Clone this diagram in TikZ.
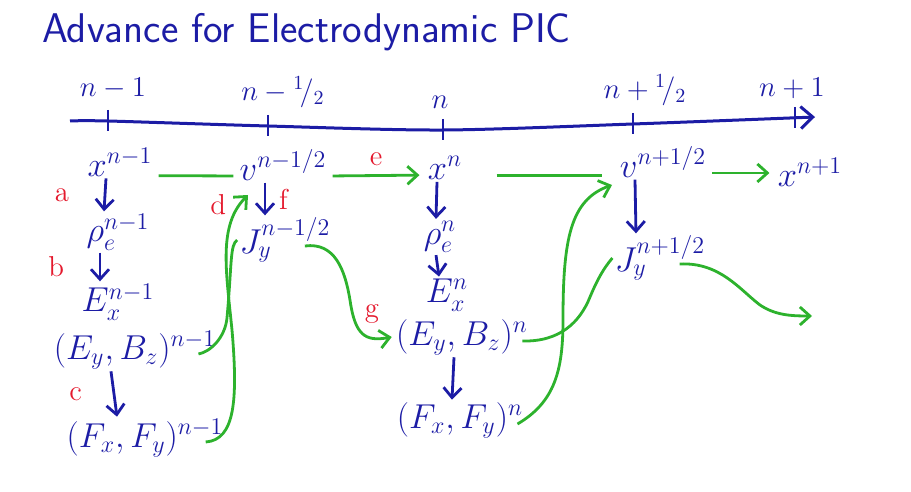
\documentclass[tikz,border=0pt]{standalone}
\usepackage{amsmath}
\usetikzlibrary{arrows.meta}

\definecolor{penblue}{RGB}{28,28,165}
\definecolor{pengreen}{RGB}{45,178,45}
\definecolor{penred}{RGB}{228,25,45}

\tikzset{
  qty/.style={text=penblue, font=\LARGE, inner sep=1pt},
  tlabel/.style={text=penblue, font=\Large},
  stepname/.style={text=penred, font=\Large},
  down/.style={penblue, line width=1.4pt, -{Straight Barb[length=5pt,width=9pt]}},
  gline/.style={pengreen, line width=1.4pt},
  garrow/.style={gline, -{Straight Barb[length=5pt,width=9pt]}},
}

\begin{document}
\begin{tikzpicture}[x=0.5pt,y=-0.5pt]
  \useasboundingbox (0,0) rectangle (911,492);
  \node[text=penblue, font=\huge\sffamily, anchor=west] (title) at (35,32) {Advance for Electrodynamic PIC};

  % time axis
  \draw[penblue, line width=1.5pt, -{Straight Barb[length=6pt,width=11pt]}]
    plot[smooth] coordinates {(70,121) (108,121) (268,126) (443,130) (633,124) (815,117)};
  \foreach \tx/\ty in {108/121, 268/126, 443/130, 633/124, 795/118}
    \draw[penblue, line width=1.3pt] (\tx,\ty-11) -- (\tx,\ty+10);
  \node[tlabel] (tA) at (113,88) {$n-1$};
  \node[tlabel] (tB) at (283,92) {$n-{}^{1}\!/_{2}$};
  \node[tlabel] (tC) at (440,102) {$n$};
  \node[tlabel] (tD) at (645,90) {$n+{}^{1}\!/_{2}$};
  \node[tlabel] (tE) at (792,88) {$n+1$};

  % step n-1
  \node[qty] (xA) at (120,162) {$x^{n-1}$};
  \node[qty] (rhoA) at (118,232) {$\rho_e^{n-1}$};
  \node[qty] (ExA) at (118,302) {$E_x^{n-1}$};
  \node[qty] (EBA) at (135,350) {$(E_y,B_z)^{n-1}$};
  \node[qty] (FA) at (145,438) {$(F_x,F_y)^{n-1}$};
  % step n-1/2
  \node[qty] (vB) at (283,165) {$v^{n-1/2}$};
  \node[qty] (JB) at (285,240) {$J_y^{n-1/2}$};
  % step n
  \node[qty] (xC) at (445,168) {$x^{n}$};
  \node[qty] (rhoC) at (440,237) {$\rho_e^{n}$};
  \node[qty] (ExC) at (447,295) {$E_x^{n}$};
  \node[qty] (EBC) at (462,337) {$(E_y,B_z)^{n}$};
  \node[qty] (FC) at (460,420) {$(F_x,F_y)^{n}$};
  % step n+1/2
  \node[qty] (vD) at (663,162) {$v^{n+1/2}$};
  \node[qty] (JD) at (660,258) {$J_y^{n+1/2}$};
  % step n+1
  \node[qty] (xE) at (810,172) {$x^{n+1}$};
  \coordinate (JDend) at (812,316);

  % blue steps
  \draw[down] ([xshift=-7pt]xA.south) -- ([xshift=-7pt]rhoA.north) node[midway, left=14pt, stepname] {a};
  \draw[down] ([xshift=-9pt]rhoA.south) -- ([xshift=-9pt]ExA.north) node[midway, left=14pt, stepname] {b};
  \draw[down] ([xshift=-12pt]EBA.south) -- ([xshift=-14pt]FA.north) node[midway, left=12pt, stepname] {c};
  \draw[down] ([xshift=-9pt]vB.south) -- ([xshift=-10pt]JB.north) node[midway, right=3pt, stepname] {f};
  \draw[down] ([xshift=-4pt]xC.south) -- ([xshift=-2pt]rhoC.north);
  \draw[down] ([xshift=-2pt]rhoC.south) -- ([xshift=-4pt]ExC.north);
  \draw[down] ([xshift=-4pt]EBC.south) -- ([xshift=-4pt]FC.north);
  \draw[down] ([xshift=-14pt]vD.south) -- ([xshift=-12pt]JD.north);

  % green pushes
  \draw[gline] ([xshift=2pt,yshift=-2pt]xA.mid east) -- ([xshift=-2pt]vB.mid west);
  \draw[garrow] ([xshift=2pt]vB.mid east) -- ([xshift=-3pt]xC.mid west) node[midway, above=1pt, stepname] {e};
  \draw[gline] ([xshift=16pt]xC.mid east) -- ([xshift=-8pt]xC.mid east -| vD.west);
  \draw[garrow] ([xshift=2pt]vD.mid east) -- ([xshift=-3pt]vD.mid east -| xE.west);
  \draw[garrow] ([xshift=-10pt,yshift=-2pt]FA.east) .. controls (235,440) and (238,400) .. (232,330)
    .. controls (226,270) and (218,225) .. (248,195) node[pos=0.9, left=3pt, stepname] {d};
  \draw[gline] ([xshift=-10pt,yshift=-2pt]EBA.east) .. controls (210,352) and (225,338) .. (227,318)
    .. controls (232,262) and (230,245) .. (JB.west);
  \draw[garrow] ([xshift=-14pt,yshift=-3pt]JB.east) .. controls (335,242) and (345,270) .. (350,300)
    .. controls (355,335) and (365,342) .. ([xshift=-1pt]EBC.west);
  \node[stepname] (labelg) at (372,314) {g};
  \draw[garrow] ([xshift=-4pt,yshift=-2pt]FC.east) .. controls (555,402) and (563,370) .. (563,320)
    .. controls (563,240) and (570,200) .. (612,185);
  \draw[gline] ([xshift=-4pt,yshift=-2pt]EBC.east) .. controls (560,342) and (580,322) .. (590,297)
    .. controls (598,278) and (604,268) .. (JD.west);
  \draw[garrow] ([xshift=-14pt,yshift=-3pt]JD.east) .. controls (720,262) and (740,290) .. (760,305)
    .. controls (775,315) and (790,316) .. (JDend);
\end{tikzpicture}
\end{document}
